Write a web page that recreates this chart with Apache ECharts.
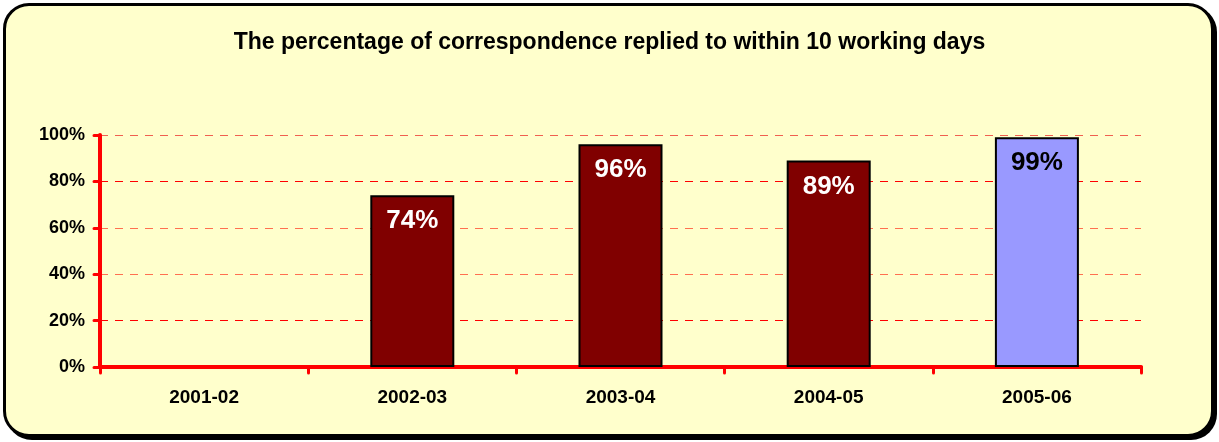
<!DOCTYPE html>
<html><head><meta charset="utf-8">
<script src="https://cdn.jsdelivr.net/npm/echarts@6/dist/echarts.min.js"></script>
<style>
html,body{margin:0;padding:0;background:#fff;}
#frame{position:absolute;left:3px;top:3px;width:1205px;height:428px;border:3px solid #000;border-radius:26px;background:#FFFFCC;box-shadow:3px 3px 0 #000;}
#chart{position:absolute;left:0;top:0;width:1219px;height:442px;}
</style></head>
<body>
<div id="frame"></div>
<div id="chart"></div>
<script>
const categories = ['2001-02','2002-03','2003-04','2004-05','2005-06'];
const values = [null, 74, 96, 89, 99];
const barColors = ['#800000','#800000','#800000','#800000','#9999FF'];
const labelColors = ['#FFFFFF','#FFFFFF','#FFFFFF','#FFFFFF','#000000'];
const titleText = 'The percentage of correspondence replied to within 10 working days';

const FONT = '"Liberation Sans", Arial, sans-serif';
const chart = echarts.init(document.getElementById('chart'));
chart.setOption({
  animation: false,
  backgroundColor: 'transparent',
  title: {
    text: titleText, left: 'center', top: 26,
    textStyle: {fontFamily: FONT, fontWeight: 'bold', fontSize: 23, color: '#000'}
  },
  grid: {left: 100, right: 78, top: 135, bottom: 75},
  xAxis: {
    type: 'category', data: categories,
    axisLine: {lineStyle: {color: '#FF0000', width: 4, cap: 'round'}},
    axisTick: {show: true, length: 6, lineStyle: {color: '#FF0000', width: 3, cap: 'round'}},
    axisLabel: {margin: 21, fontFamily: FONT, fontWeight: 'bold', fontSize: 19, color: '#000'},
    splitLine: {show: false}
  },
  yAxis: {
    type: 'value', min: 0, max: 100, interval: 20,
    axisLine: {show: true, lineStyle: {color: '#FF0000', width: 4, cap: 'round'}},
    axisTick: {show: true, length: 6, lineStyle: {color: '#FF0000', width: 3, cap: 'round'}},
    axisLabel: {margin: 15, formatter: '{value}%', fontFamily: FONT, fontWeight: 'bold', fontSize: 18, color: '#000'},
    splitLine: {show: true, lineStyle: {type: [8, 7], width: 1,
      color: ['#FF0000','#FF0000','#FF7050','#FF7050','#FF0000','#F06050']}}
  },
  series: [{
    type: 'bar', barWidth: 84,
    data: values.map((v, i) => ({
      value: v,
      itemStyle: {color: barColors[i], borderColor: '#000', borderWidth: 2},
      label: {color: labelColors[i]}
    })),
    label: {show: true, position: 'insideTop', distance: 13, formatter: '{c}%',
      fontFamily: FONT, fontWeight: 'bold', fontSize: 26}
  }]
});
</script>
</body></html>
